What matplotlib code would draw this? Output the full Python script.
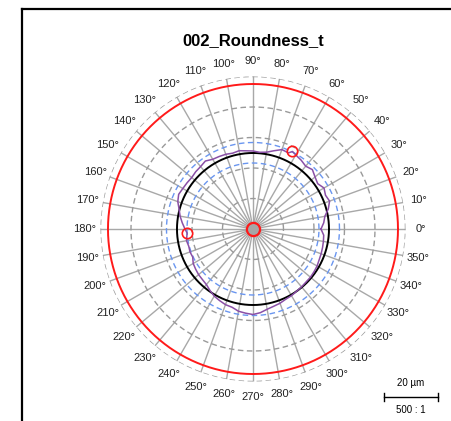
import numpy as np
import matplotlib.pyplot as plt
from matplotlib.lines import Line2D

plt.rcParams['font.family'] = ['Liberation Sans', 'DejaVu Sans']

# measured profile (polar plot units, magnified deviation)
profile_deg = [0, 5, 10, 15, 20, 25, 30, 35, 40, 45, 50, 55, 60, 63, 65, 70, 75, 80, 85,
               90, 95, 100, 105, 110, 115, 120, 125, 130, 135, 140, 145, 150, 155, 160, 165,
               170, 175, 180, 183.5, 190, 195, 200, 205, 210, 215, 220, 225, 230, 235, 240,
               245, 250, 255, 260, 265, 270, 275, 280, 285, 290, 295, 300, 305, 310, 315,
               320, 325, 330, 335, 340, 345, 350, 355]
profile_r = [68, 71, 73, 78, 81.5, 80, 82, 79, 81, 84, 82, 84, 85.5, 87, 84, 84.5, 81, 78, 77,
             78, 78.5, 79.5, 78.5, 79.5, 80, 80.5, 83, 81.5, 81, 80, 80.5, 81, 82, 80, 76.5,
             74, 71, 68, 66, 67.5, 66.5, 67, 66.5, 69, 70, 71, 71.5, 72.5, 75, 77.5,
             79, 80.5, 81, 83.5, 84.5, 85.5, 84, 81.5, 80, 79, 77.5, 77, 76, 75.5, 75,
             75, 74.5, 74, 73, 72.5, 72, 71.5, 71]

peak_deg, peak_r = 63, 87
valley_deg, valley_r = 183.5, 66

mean_r = 76          # least squares circle
mz_inner, mz_outer = 66, 86.5
tol_r = 145          # tolerance circle
ring_r = [30.5, 61, 91.5, 122, 152.5]
label_deg = list(range(0, 360, 10))

fig = plt.figure(figsize=(4.52, 4.21), dpi=100)
ax = fig.add_axes([0.2223, 0.0938, 0.6748, 0.7245], projection='polar')
ax.set_ylim(0, 152.5)
ax.spines['polar'].set_visible(False)
ax.set_xticks([])
ax.set_yticks([])
ax.grid(False)

full = np.linspace(0, 2 * np.pi, 721)

# spokes every 10 degrees
for d in label_deg:
    t = np.deg2rad(d)
    ax.plot([t, t], [0, ring_r[-1]], color='#a8a8a8', lw=1.0, zorder=1)

# dashed grid rings
for r in ring_r:
    ax.plot(full, np.full_like(full, r), color='#9a9a9a', lw=1.0,
            dashes=(4, 2.5), zorder=1)

ax.plot(full, np.full_like(full, tol_r), color='#ff1a1a', lw=1.4, zorder=2)
for r in (mz_inner, mz_outer):
    ax.plot(full, np.full_like(full, r), color='#6a96f0', lw=1.0,
            dashes=(4, 2.5), zorder=2)
ax.plot(full, np.full_like(full, mean_r), color='black', lw=1.4, zorder=3)

th = np.deg2rad(profile_deg + [profile_deg[0]])
ax.plot(th, profile_r + [profile_r[0]], color='#8a4fa6', lw=1.1, zorder=4)

ax.plot(np.deg2rad([peak_deg, valley_deg]), [peak_r, valley_r], 'o', ms=7.5,
        mfc='none', mec='#ff1a1a', mew=1.2, zorder=5)
ax.scatter([0], [0], s=90, c='#a6a6a6', edgecolors='#ff1a1a', linewidths=1.6, zorder=6)

for d in label_deg:
    ax.text(np.deg2rad(d), 168, f'{d}°', ha='center', va='center',
            fontsize=8, color='#222222', clip_on=False)

fig.text(253 / 452, 1 - 41 / 421, '002_Roundness_t', ha='center', va='center',
         fontsize=12, fontweight='bold')

# scale bar
x0, x1, yb = 384 / 452, 438 / 452, 1 - 397 / 421
fig.add_artist(Line2D([x0, x1], [yb, yb], color='black', lw=1.0))
for xx in (x0, x1):
    fig.add_artist(Line2D([xx, xx], [yb - 4 / 421, yb + 4 / 421], color='black', lw=1.0))
fig.text(411 / 452, 1 - 383 / 421, '20 µm', ha='center', va='center', fontsize=7)
fig.text(411 / 452, 1 - 410 / 421, '500 : 1', ha='center', va='center', fontsize=7)

# page frame
fig.add_artist(Line2D([22.5 / 452, 22.5 / 452], [0, 1 - 8.5 / 421], color='black', lw=1.6))
fig.add_artist(Line2D([22 / 452, 1], [1 - 8.5 / 421, 1 - 8.5 / 421], color='black', lw=1.6))

fig.savefig('out.png', dpi=100)
